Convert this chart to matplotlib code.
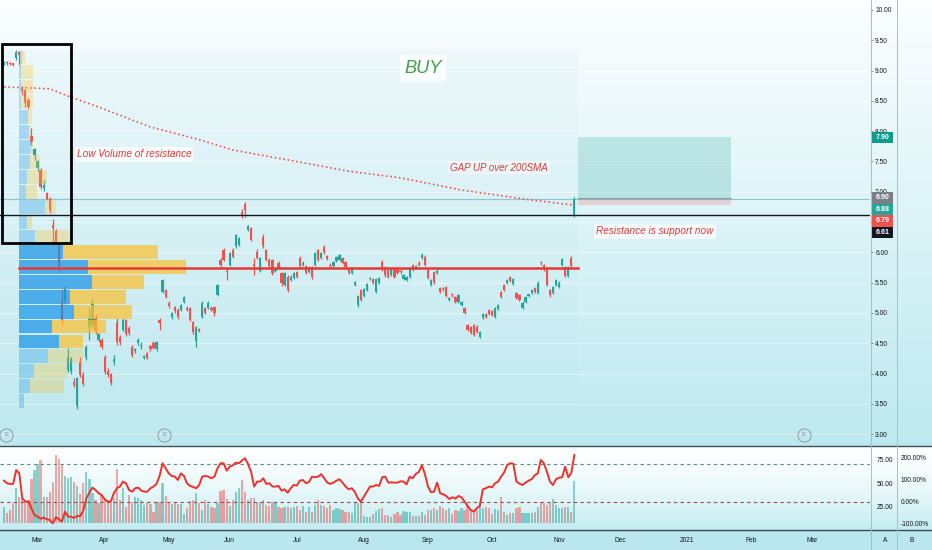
import numpy as np
import matplotlib.pyplot as plt
from matplotlib import font_manager
from matplotlib.patches import Rectangle
from matplotlib.lines import Line2D
import matplotlib.transforms as mtrans

# daily candles, 13 Feb 2020 .. 9 Nov 2020
opens = [9.12, 9.15, 9.13, 9.12, 9.20, 9.30, 8.72, 8.68, 8.52, 7.92,
         7.60, 7.39, 7.36, 7.06, 6.98, 6.88, 6.45, 6.35, 6.10, 5.20,
         5.20, 4.06, 4.04, 3.86, 3.46, 4.19, 3.98, 4.27, 4.77, 4.80,
         4.92, 4.56, 4.55, 4.27, 4.05, 3.99, 4.19, 4.85, 4.60, 4.72,
         4.88, 4.75, 4.44, 4.37, 4.50, 4.45, 4.26, 4.34, 4.46, 4.50,
         4.40, 4.88, 5.35, 5.38, 5.17, 4.93, 5.10, 5.05, 5.05, 5.18,
         5.08, 5.08, 4.85, 4.53, 4.74, 4.94, 5.08, 5.08, 5.09, 5.10,
         5.30, 5.87, 6.04, 5.70, 5.80, 6.04, 6.10, 6.13, 6.66, 6.80,
         6.37, 6.40, 5.81, 6.01, 5.69, 6.25, 6.04, 5.87, 5.87, 5.70,
         5.83, 5.66, 5.47, 5.60, 5.54, 5.58, 5.68, 5.91, 5.80, 5.77,
         5.68, 5.76, 5.80, 6.04, 5.91, 6.09, 5.94, 5.79, 5.77, 5.86,
         5.88, 5.91, 5.84, 5.72, 5.66, 5.46, 5.14, 5.38, 5.28, 5.38,
         5.56, 5.56, 5.35, 5.50, 5.84, 5.75, 5.71, 5.63, 5.71, 5.73,
         5.70, 5.56, 5.54, 5.59, 5.79, 5.75, 5.83, 5.91, 5.92, 5.71,
         5.46, 5.68, 5.66, 5.41, 5.41, 5.43, 5.21, 5.31, 5.26, 5.18,
         5.13, 5.08, 4.80, 4.77, 4.80, 4.77, 4.61, 4.92, 4.98, 5.05,
         5.03, 4.93, 5.07, 5.35, 5.46, 5.50, 5.59, 5.48, 5.33, 5.30,
         5.08, 5.18, 5.28, 5.33, 5.41, 5.33, 5.84, 5.79, 5.71, 5.38,
         5.33, 5.46, 5.43, 5.79, 5.76, 5.61, 5.91, 6.61]
highs = [9.16, 9.16, 9.15, 9.13, 9.34, 9.32, 8.75, 8.70, 8.55, 8.05,
         7.72, 7.52, 7.40, 7.19, 7.00, 6.92, 6.55, 6.38, 6.15, 5.40,
         5.45, 4.42, 4.28, 3.92, 3.95, 4.28, 4.02, 4.47, 5.10, 5.25,
         4.98, 4.67, 4.58, 4.30, 4.10, 4.01, 4.30, 4.92, 4.63, 4.92,
         4.90, 4.78, 4.47, 4.42, 4.58, 4.52, 4.31, 4.36, 4.48, 4.53,
         4.54, 4.92, 5.56, 5.40, 5.20, 5.02, 5.12, 5.08, 5.15, 5.28,
         5.12, 5.10, 4.87, 4.79, 4.76, 5.19, 5.10, 5.19, 5.12, 5.12,
         5.48, 5.90, 6.07, 5.76, 6.01, 6.08, 6.31, 6.26, 6.72, 6.83,
         6.46, 6.42, 5.91, 6.05, 5.93, 6.30, 6.06, 5.90, 5.89, 5.74,
         5.86, 5.68, 5.68, 5.62, 5.62, 5.68, 5.70, 5.94, 5.85, 5.79,
         5.78, 5.78, 6.01, 6.06, 6.01, 6.12, 5.96, 5.82, 5.86, 5.94,
         5.98, 5.93, 5.86, 5.75, 5.76, 5.53, 5.30, 5.40, 5.42, 5.50,
         5.60, 5.58, 5.58, 5.60, 5.87, 5.77, 5.73, 5.75, 5.74, 5.75,
         5.72, 5.65, 5.61, 5.76, 5.81, 5.79, 5.85, 5.99, 5.95, 5.73,
         5.56, 5.70, 5.72, 5.43, 5.43, 5.45, 5.27, 5.33, 5.28, 5.32,
         5.20, 5.10, 4.82, 4.79, 4.82, 4.80, 4.71, 5.00, 5.00, 5.07,
         5.05, 5.10, 5.15, 5.37, 5.48, 5.56, 5.61, 5.58, 5.35, 5.32,
         5.19, 5.28, 5.32, 5.40, 5.43, 5.52, 5.86, 5.81, 5.73, 5.40,
         5.45, 5.56, 5.52, 5.91, 5.78, 5.78, 5.94, 6.92]
lows = [9.10, 9.10, 9.09, 9.08, 9.18, 9.10, 8.60, 8.40, 8.36, 7.78,
        7.52, 7.34, 7.05, 7.02, 6.86, 6.65, 6.15, 6.12, 5.68, 4.80,
        5.15, 4.02, 4.00, 3.78, 3.42, 3.95, 3.80, 4.22, 4.55, 4.75,
        4.65, 4.52, 4.40, 4.00, 3.95, 3.82, 4.15, 4.48, 4.48, 4.70,
        4.62, 4.64, 4.28, 4.34, 4.48, 4.40, 4.24, 4.24, 4.38, 4.40,
        4.38, 4.72, 5.33, 5.24, 5.08, 4.90, 5.00, 4.90, 5.03, 5.16,
        5.03, 4.86, 4.66, 4.44, 4.68, 4.92, 4.98, 5.06, 5.03, 4.95,
        5.28, 5.76, 5.85, 5.54, 5.78, 5.90, 6.08, 6.11, 6.57, 6.58,
        6.35, 6.18, 5.63, 5.89, 5.67, 6.07, 5.85, 5.74, 5.62, 5.68,
        5.72, 5.45, 5.45, 5.35, 5.52, 5.56, 5.57, 5.76, 5.77, 5.64,
        5.66, 5.56, 5.78, 5.85, 5.89, 5.97, 5.87, 5.74, 5.75, 5.84,
        5.86, 5.81, 5.74, 5.64, 5.64, 5.44, 5.10, 5.19, 5.26, 5.36,
        5.54, 5.48, 5.33, 5.48, 5.70, 5.60, 5.57, 5.61, 5.57, 5.64,
        5.65, 5.54, 5.52, 5.57, 5.69, 5.73, 5.77, 5.89, 5.77, 5.56,
        5.44, 5.48, 5.64, 5.33, 5.37, 5.26, 5.19, 5.27, 5.16, 5.16,
        5.11, 4.98, 4.70, 4.65, 4.62, 4.67, 4.59, 4.90, 4.91, 4.96,
        4.95, 4.91, 5.05, 5.24, 5.36, 5.48, 5.51, 5.46, 5.23, 5.19,
        5.06, 5.16, 5.26, 5.31, 5.33, 5.31, 5.80, 5.69, 5.44, 5.27,
        5.31, 5.44, 5.41, 5.77, 5.59, 5.59, 5.76, 6.58]
closes = [9.15, 9.12, 9.11, 9.10, 9.31, 9.25, 8.66, 8.47, 8.40, 7.83,
          7.70, 7.50, 7.08, 7.12, 6.88, 6.70, 6.40, 6.15, 5.74, 4.88,
          5.40, 4.27, 4.25, 3.82, 3.92, 3.98, 3.83, 4.44, 4.92, 5.17,
          4.70, 4.65, 4.44, 4.03, 3.98, 3.85, 4.24, 4.52, 4.52, 4.88,
          4.66, 4.67, 4.31, 4.40, 4.55, 4.47, 4.29, 4.26, 4.40, 4.42,
          4.52, 4.83, 5.54, 5.27, 5.11, 5.00, 5.03, 4.93, 5.13, 5.26,
          5.05, 4.89, 4.69, 4.77, 4.71, 5.17, 5.00, 5.16, 5.05, 5.00,
          5.46, 5.79, 5.87, 5.67, 5.99, 5.93, 6.29, 6.24, 6.62, 6.70,
          6.44, 6.20, 5.78, 5.91, 5.90, 6.10, 5.88, 5.77, 5.66, 5.72,
          5.75, 5.50, 5.66, 5.38, 5.59, 5.66, 5.60, 5.78, 5.82, 5.66,
          5.76, 5.59, 5.99, 5.88, 5.99, 6.00, 5.89, 5.77, 5.84, 5.92,
          5.95, 5.83, 5.76, 5.66, 5.74, 5.51, 5.28, 5.22, 5.40, 5.48,
          5.58, 5.50, 5.56, 5.58, 5.74, 5.62, 5.60, 5.73, 5.60, 5.66,
          5.68, 5.63, 5.59, 5.74, 5.71, 5.78, 5.80, 5.96, 5.79, 5.58,
          5.54, 5.51, 5.69, 5.35, 5.39, 5.28, 5.25, 5.29, 5.18, 5.30,
          5.18, 5.00, 4.72, 4.67, 4.64, 4.69, 4.69, 4.98, 4.93, 4.98,
          4.97, 5.08, 5.13, 5.26, 5.38, 5.54, 5.53, 5.56, 5.25, 5.21,
          5.17, 5.26, 5.31, 5.38, 5.35, 5.50, 5.82, 5.71, 5.46, 5.30,
          5.43, 5.54, 5.50, 5.89, 5.61, 5.76, 5.78, 6.88]
volume = [16, 10, 13, 20, 35, 26, 25, 23, 23, 44,
          53, 59, 63, 26, 26, 31, 41, 68, 64, 58,
          47, 45, 46, 41, 37, 29, 40, 51, 44, 30,
          23, 20, 28, 25, 21, 20, 25, 54, 23, 35,
          16, 28, 21, 26, 25, 23, 18, 20, 19, 11,
          21, 21, 40, 27, 20, 19, 20, 19, 19, 9,
          15, 22, 23, 30, 20, 13, 23, 19, 16, 15,
          20, 32, 33, 24, 17, 23, 31, 35, 43, 31,
          23, 25, 25, 20, 21, 23, 18, 17, 21, 21,
          16, 15, 16, 16, 15, 16, 17, 13, 17, 11,
          16, 11, 18, 23, 18, 17, 15, 18, 13, 15,
          14, 13, 11, 11, 10, 20, 20, 21, 7, 6,
          6, 9, 12, 14, 15, 8, 8, 6, 9, 11,
          8, 12, 11, 11, 7, 7, 7, 11, 8, 13,
          13, 15, 13, 17, 15, 13, 15, 9, 13, 12,
          15, 13, 18, 13, 11, 13, 21, 15, 16, 15,
          9, 14, 13, 26, 11, 8, 10, 10, 15, 16,
          10, 10, 10, 10, 11, 16, 21, 20, 18, 20,
          24, 18, 15, 15, 16, 16, 11, 42]
rsi = [52.8, 50, 49.3, 49.3, 64, 60.6, 34, 30.5, 30.5, 23.4,
       16.3, 14.5, 12.4, 13.5, 11.7, 11, 7.4, 13.8, 11.7, 9.2,
       19.9, 14.5, 14.5, 13.1, 15.2, 15.2, 21, 34, 40, 45.4,
       42.9, 39.4, 37.6, 33, 30.5, 30.5, 39.4, 44.7, 46.5, 51.8,
       50, 42.9, 41.1, 44.7, 45.4, 42.2, 41.1, 41.1, 44.7, 46.5,
       49.3, 57.8, 71.3, 66, 60.6, 57.8, 57.1, 53.5, 60.6, 57.8,
       50, 47.2, 46.1, 44.7, 48.2, 57.1, 57.8, 57.1, 55.3, 57.1,
       66, 71.3, 71.3, 63.5, 67.7, 69.1, 72, 71.3, 74.1, 76.6,
       70.6, 62.4, 46.5, 51.8, 51.8, 55.3, 49.3, 50, 46.5, 46.5,
       47.2, 42.2, 43.6, 40, 44.7, 48.2, 47.5, 52.8, 53.5, 50,
       51.4, 57.1, 56.4, 57.1, 59.6, 55.3, 50.7, 49.3, 50.7, 52.8,
       54.3, 50.7, 46.5, 43.6, 44.7, 41.1, 34, 30.5, 35.8, 41.1,
       46.5, 46.5, 48.2, 47.2, 56.4, 57.1, 50.7, 51, 50.7, 50.7,
       52.1, 51.8, 48.9, 57.1, 55.3, 59.9, 62, 69.1, 59.9, 46.5,
       40.4, 41.1, 50.7, 39.4, 38.3, 36.5, 33.3, 35.1, 33.7, 36.5,
       35.1, 30.5, 25.9, 21.6, 19.9, 23.4, 25.9, 43.6, 44.7, 46.5,
       45.7, 50, 51.8, 57.1, 61.7, 69.5, 71.3, 70.9, 51.8, 49.6,
       48.2, 50.7, 52.8, 54.3, 58.5, 60.6, 74.8, 71.3, 62.4, 51.8,
       48.2, 54.3, 56, 56.4, 67.7, 56.4, 61, 80.1]
sma_idx = [0, 6, 15, 22, 32, 48, 64, 75, 97, 113, 130, 150, 172, 187]
sma_val = [8.73, 8.72, 8.70, 8.56, 8.38, 8.07, 7.86, 7.69, 7.49, 7.34, 7.23, 7.03, 6.87, 6.78]

# volume profile rows, top to bottom
profile_up = [3, 2, 2, 2, 9, 10, 12, 11, 8, 7, 26, 8, 16, 44, 69, 73, 51, 55, 33, 40, 29, 15, 11, 5]
profile_down = [3, 12, 12, 12, 4, 2, 2, 10, 20, 11, 11, 5, 35, 95, 98, 52, 56, 58, 54, 24, 35, 34, 34, 0]
value_area = range(13, 20)

month_idx = [11, 33, 54, 74, 96, 118, 139, 160, 182, 202, 224, 245, 265]
month_lbl = ['Mar', 'Apr', 'May', 'Jun', 'Jul', 'Aug', 'Sep', 'Oct', 'Nov', 'Dec', '2021', 'Feb', 'Mar']
earn_idx = [0.7, 52.5, 262.3]

resistance = 5.74
gap_open = 6.61
last_price = 6.88
entry, target, stop = 6.90, 7.90, 6.79

# ---------------------------------------------------------------------------
avail = {f.name for f in font_manager.fontManager.ttflist}
narrow = 'Liberation Sans Narrow' in avail
fam = ['Liberation Sans Narrow', 'DejaVu Sans'] if narrow else ['Liberation Sans', 'DejaVu Sans']
k = 1.0 if narrow else 0.82
plt.rcParams['font.family'] = fam

W, H = 932, 550
fig = plt.figure(figsize=(W / 100, H / 100), dpi=100)

# background gradients
py = np.arange(H)[:, None].astype(float)
def lerp(a, b, t):
    return np.array(a) + (np.array(b) - np.array(a)) * t
main_c = lerp([252, 254, 255], [188, 233, 239], np.clip(py / 445, 0, 1))
sub_c = lerp([255, 255, 255], [194, 236, 241], np.clip((py - 447) / 83, 0, 1) ** 1.4)
img = np.where(py < 446, main_c, np.where(py < 530, sub_c, np.array([185, 231, 237])))
bg = fig.add_axes([0, 0, 1, 1], zorder=-10)
bg.imshow(img[:, None, :] / 255, aspect='auto', extent=[0, 1, 0, 1])
bg.axis('off')

n = len(closes)
x = np.arange(n)
o, h, l, c = map(np.array, (opens, highs, lows, closes))
up = c >= o
col = np.where(up, '#26a69a', '#ef5350')

def jx(px):
    return (px - 4) / 3.05

ax = fig.add_axes([0, 1 - 445 / H, 870 / W, 445 / H])
ax.patch.set_alpha(0)
ax.set_xlim(jx(0), jx(870))
ax.set_ylim(10.165 - 445 / 60.6, 10.165)
for s in ax.spines.values():
    s.set_visible(False)
ax.set_xticks([])
ax.yaxis.tick_right()
yt = np.arange(3, 10.01, 0.5)
ax.set_yticks(yt)
# 6.50 sits fully under the stacked price labels, as in the original
ax.set_yticklabels(['' if abs(v - 6.5) < 1e-6 else f'{v:.2f}' for v in yt])
ax.tick_params(axis='y', direction='out', length=2.2, width=0.6, color='#6f8a90',
               pad=1.5, labelsize=5.8 * k, labelcolor='#131722')
for v in yt:
    ax.axhline(v, color='white', lw=0.8, alpha=0.45, zorder=0.6)

# range box of the fixed volume profile
top_p, bot_p = max(highs), min(lows)
ax.add_patch(Rectangle((jx(0), bot_p), n + 0.2 - jx(0), top_p - bot_p,
                       fc='#bfe6ee', alpha=0.15, ec='none', zorder=0.5))

# candles
ax.vlines(x, l, h, color=col, lw=0.9, zorder=3)
ax.bar(x, np.maximum(np.abs(c - o), 0.012), bottom=np.minimum(o, c), width=0.75,
       color=col, lw=0, zorder=3)

# volume profile
edges = np.linspace(top_p, bot_p, len(profile_up) + 1)
tot = np.array(profile_up) + np.array(profile_down)
scale = 54.75 / tot.max()
left = 4.9
for r in range(len(profile_up)):
    yc = (edges[r] + edges[r + 1]) / 2
    hh = (edges[r] - edges[r + 1]) * 0.93
    a = 0.7 if r in value_area else 0.3
    wu = profile_up[r] * scale
    ax.barh(yc, wu, height=hh, left=left, color='#1592e6', alpha=a, lw=0, zorder=4)
    ax.barh(yc, profile_down[r] * scale, height=hh, left=left + wu, color='#fbc02d',
            alpha=a, lw=0, zorder=4)

ax.plot([left, n + 0.2], [resistance, resistance], color='#e53935', lw=1.8, zorder=5)
ax.axhline(gap_open, color='#131722', lw=1.0, zorder=5)
ax.axhline(last_price, color='#8ec6cc', lw=0.8, zorder=2)
ax.plot(sma_idx, sma_val, color='#ef5350', lw=1.2, ls=(0, (1, 1.6)), zorder=3)

# long position tool
bx0, bx1 = n + 0.2, jx(731)
ax.add_patch(Rectangle((bx0, entry), bx1 - bx0, target - entry, fc='#26a69a', alpha=0.22, ec='none', zorder=2))
ax.add_patch(Rectangle((bx0, stop), bx1 - bx0, entry - stop, fc='#f23645', alpha=0.18, ec='none', zorder=2))
ax.plot([bx0, bx1], [entry, entry], color='#7f9fa3', lw=0.7, zorder=2)

# marked zone
ax.add_patch(Rectangle((jx(2), 6.155), jx(71) - jx(2), 9.44 - 6.155, fc='none',
                       ec='black', lw=2, zorder=6))

tf = dict(family=fam, style='italic')
ax.text(jx(423), 9.04, 'BUY', color='#43a047', fontsize=16 * k, ha='center', va='center',
        bbox=dict(fc='white', ec='none', alpha=0.8, pad=3), zorder=7, **tf)
ax.text(jx(134), 7.63, 'Low Volume of resistance', color='#e53935', fontsize=8.8 * k,
        ha='center', va='center', bbox=dict(fc='white', ec='none', alpha=0.75, pad=1.5), zorder=7, **tf)
ax.text(jx(499), 7.39, 'GAP UP over 200SMA', color='#e53935', fontsize=8.6 * k,
        ha='center', va='center', bbox=dict(fc='white', ec='none', alpha=0.35, pad=1.5), zorder=7, **tf)
ax.text(jx(655), 6.345, 'Resistance is support now', color='#e53935', fontsize=8.8 * k,
        ha='center', va='center', bbox=dict(fc='white', ec='none', alpha=0.75, pad=1.5), zorder=7, **tf)

# earnings markers
btr = mtrans.blended_transform_factory(ax.transData, ax.transAxes)
for e in earn_idx:
    ax.plot([e], [10 / 445], transform=btr, marker='o', ms=9.5, mfc='none', mec='#9aa0a8',
            mew=0.8, clip_on=False, zorder=6)
    ax.text(e, 10 / 445, 'E', transform=btr, ha='center', va='center', fontsize=5.5 * k,
            color='#8a9098', zorder=6)

# price labels on the scale
fig.canvas.draw()
inv = fig.transFigure.inverted()
bh = 11.5 / H
prev = None
for val, cc in [(target, '#0c9c89'), (entry, '#7b7f87'), (last_price, '#26a69a'),
                (stop, '#ef5350'), (gap_open, '#131722')]:
    yf = inv.transform(ax.transData.transform((0, val)))[1]
    if prev is not None and yf > prev - bh:
        yf = prev - bh
    prev = yf
    fig.patches.append(Rectangle((872 / W, yf - bh / 2), 21 / W, bh, transform=fig.transFigure,
                                 fc=cc, ec='none', zorder=10))
    fig.text(882.5 / W, yf, f'{val:.2f}', color='white', fontsize=6.3 * k, fontweight='bold',
             ha='center', va='center', zorder=11)

# lower pane: volume + RSI
bax = fig.add_axes([0, 1 - 530 / H, 870 / W, 83 / H])
bax.patch.set_alpha(0)
bax.set_xlim(jx(0), jx(870))
bax.set_ylim(-7, 76)
bax.bar(x, volume, width=0.75, color=np.where(up, '#26a69a', '#ef5350'), alpha=0.5, lw=0)
bax.set_yticks([])
bax.set_xticks(month_idx)
bax.set_xticklabels(month_lbl)
bax.tick_params(axis='x', length=0, pad=5, labelsize=5.8 * k, labelcolor='#131722')
for s in bax.spines.values():
    s.set_visible(False)

rax = bax.twinx()
rax.set_ylim(0.3, 88.6)
rax.axhline(70, color='#5c8c8c', lw=0.8, ls=(0, (3, 3)))
rax.axhline(30, color='#a34848', lw=0.8, ls=(0, (3, 3)))
rax.plot(x, rsi, color='#f0302a', lw=1.4)
rax.set_yticks([25, 50, 75])
rax.set_yticklabels(['25.00', '50.00', '75.00'])
rax.tick_params(axis='y', length=0, pad=5, labelsize=5.8 * k, labelcolor='#131722')
for s in rax.spines.values():
    s.set_visible(False)

pax = bax.twinx()
pax.set_ylim(-130.5, 246.8)
pax.set_yticks([-100, 0, 100, 200])
pax.set_yticklabels(['-100.00%', '0.00%', '100.00%', '200.00%'])
pax.tick_params(axis='y', length=0, pad=22, labelsize=5.8 * k, labelcolor='#131722')
for s in pax.spines.values():
    s.set_visible(False)

fig.text(885 / W, 1 - 540 / H, 'A', fontsize=5.8 * k, color='#131722', ha='center', va='center')
fig.text(912 / W, 1 - 540 / H, 'B', fontsize=5.8 * k, color='#131722', ha='center', va='center')

for yy in (446, 530):
    fig.add_artist(Line2D([0, 1], [1 - yy / H] * 2, color='#3d4f55', lw=1.0))
for xx in (871, 897):
    fig.add_artist(Line2D([xx / W] * 2, [0, 1], color='#9cc4ca', lw=0.7))

fig.savefig('out.png', dpi=100)
